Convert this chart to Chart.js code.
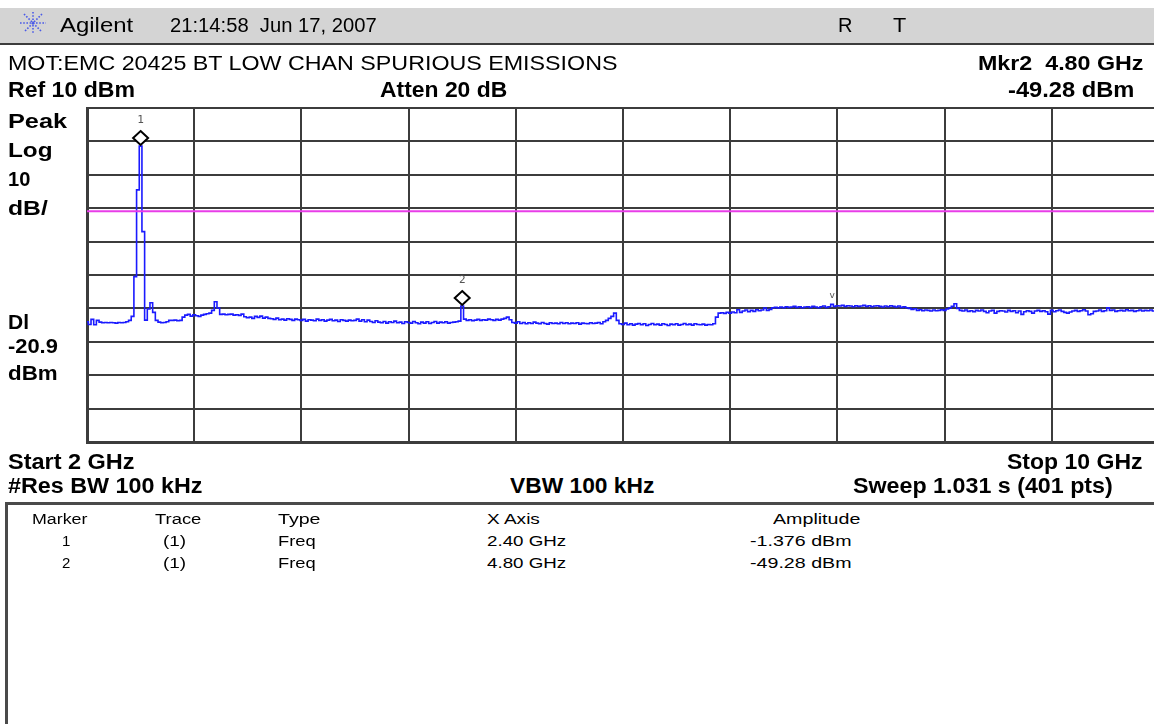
<!DOCTYPE html>
<html>
<head>
<meta charset="utf-8">
<script src="https://cdn.jsdelivr.net/npm/chart.js@4.4.1/dist/chart.umd.min.js"></script>
<style>
html, body { margin: 0; padding: 0; width: 1154px; height: 724px; overflow: hidden; background: #fff;
  font-family: "Liberation Sans", Arial, sans-serif; }
#bar { position: absolute; left: 0; top: 8px; width: 1154px; height: 35px; background: #d4d4d4; border-bottom: 2px solid #3c3c3c; }
#logo { position: absolute; left: 19px; top: 11px; }
#chart { position: absolute; left: 0; top: 0; }
#box { position: absolute; left: 5px; top: 502px; width: 1160px; height: 240px; border-top: 3px solid #4a4a4a; border-left: 3px solid #4a4a4a; }
.lbl { position: absolute; white-space: pre; line-height: 1; color: #000; transform-origin: 0 0; }
</style>
</head>
<body>
<div id="bar"></div>
<svg id="logo" width="28" height="24" viewBox="0 0 28 24">
  <g stroke="#4a5ae8" stroke-width="1.6" stroke-dasharray="1.6 1.6" fill="none">
    <line x1="14" y1="1" x2="14" y2="23"/>
    <line x1="1" y1="12" x2="27" y2="12"/>
    <line x1="5" y1="3" x2="23" y2="21"/>
    <line x1="23" y1="3" x2="5" y2="21"/>
  </g>
</svg>
<canvas id="chart" width="1160" height="450"></canvas>
<div id="box"></div>
<script>
// sweep settings (GHz / dBm)
const freqStart = 2;
const freqStop = 10;
const refLevel = 10;
const dbPerDiv = 10;
const displayLine = -20.9;

// trace 1, 401 points
const trace = [
  -54.0, -54.8, -53.3, -54.9, -53.6, -54.1, -54.3, -54.2, -54.3, -54.2, -54.3, -54.4, -54.2, -54.3, -54.2, -54.0, -53.6, -52.4, -40.5, -14.5,
  -1.4, -27.0, -53.5, -50.2, -48.3, -51.2, -53.6, -54.1, -54.3, -54.2, -54.0, -53.6, -53.6, -53.5, -53.7, -53.6, -52.6, -52.0, -51.8, -52.3,
  -51.9, -52.2, -52.4, -52.0, -51.8, -51.6, -51.4, -50.6, -48.0, -49.9, -51.8, -51.7, -51.9, -51.8, -51.7, -52.0, -51.9, -52.1, -51.7, -52.5,
  -52.8, -52.6, -53.0, -52.4, -52.7, -52.3, -52.9, -52.6, -53.0, -53.1, -53.3, -52.9, -53.4, -53.2, -53.5, -53.1, -53.3, -53.6, -53.2, -53.4,
  -53.6, -53.3, -53.8, -53.4, -53.5, -53.7, -53.2, -53.6, -53.4, -53.8, -53.5, -53.3, -53.7, -53.5, -53.9, -53.4, -53.6, -53.8, -53.5, -53.7,
  -53.6, -53.2, -53.8, -53.4, -54.0, -53.5, -53.9, -54.2, -53.7, -54.1, -54.3, -53.9, -54.4, -54.0, -54.2, -53.8, -54.3, -54.1, -54.5, -54.0,
  -54.2, -54.4, -53.9, -54.3, -54.6, -54.1, -54.4, -54.0, -54.5, -54.2, -53.9, -54.4, -54.1, -54.3, -54.0, -54.4, -54.2, -54.1, -54.0, -53.8,
  -49.3, -53.2, -53.6, -53.4, -53.7, -53.5, -53.3, -53.6, -53.4, -53.5, -53.2, -53.4, -53.6, -53.3, -53.5, -53.2, -53.0, -52.6, -53.4, -54.2,
  -54.4, -54.0, -54.5, -54.2, -54.6, -54.3, -54.5, -54.1, -54.4, -54.6, -54.2, -54.5, -54.7, -54.3, -54.5, -54.4, -54.6, -54.2, -54.5, -54.3,
  -54.6, -54.4, -54.5, -54.3, -54.7, -54.4, -54.5, -54.6, -54.3, -54.5, -54.4, -54.2, -54.6, -54.0, -53.6, -53.0, -52.4, -51.4, -53.6, -54.6,
  -54.8, -54.4, -54.9, -54.6, -55.0, -54.7, -54.5, -54.9, -54.6, -55.1, -54.8, -54.5, -54.9, -54.7, -55.0, -54.6, -54.8, -55.1, -54.7, -54.9,
  -54.6, -55.0, -54.8, -54.5, -54.9, -54.7, -55.0, -54.6, -54.8, -54.9, -54.7, -55.0, -54.8, -54.9, -54.6, -52.6, -51.4, -51.3, -51.5, -51.2,
  -51.4, -51.1, -51.3, -50.4, -51.2, -50.8, -50.5, -51.0, -50.6, -50.9, -50.4, -50.7, -50.5, -49.9, -50.6, -50.3, -49.8, -49.7, -49.9, -49.6,
  -49.8, -49.5, -49.7, -49.6, -49.4, -49.7, -49.5, -49.8, -49.6, -49.5, -49.7, -49.4, -49.6, -49.8, -49.5, -49.3, -49.7, -49.5, -48.8, -49.4,
  -49.2, -49.3, -49.1, -49.4, -49.2, -49.3, -49.5, -49.2, -49.4, -49.3, -49.1, -49.4, -49.2, -49.5, -49.3, -49.2, -49.4, -49.6, -49.3, -49.5,
  -49.2, -49.4, -49.6, -49.3, -49.7, -49.5, -49.8, -50.0, -50.3, -50.1, -50.6, -50.4, -50.7, -50.5, -50.6, -50.8, -50.5, -50.7, -50.6, -50.4,
  -50.6, -50.2, -49.9, -49.4, -48.6, -50.0, -50.6, -50.8, -50.5, -50.9, -50.7, -51.0, -50.6, -50.8, -50.5, -50.9, -51.3, -50.8, -50.6, -51.4,
  -50.9, -50.7, -50.8, -51.1, -50.6, -50.9, -50.7, -51.3, -50.8, -51.8, -51.0, -50.7, -50.9, -51.4, -50.8, -50.6, -50.9, -50.7, -51.0, -51.7,
  -50.6, -51.0, -50.7, -50.5, -50.9, -51.2, -51.4, -51.1, -50.8, -50.6, -50.9, -50.7, -50.4, -50.8, -51.9, -51.6, -50.9, -50.8, -50.5, -50.9,
  -50.7, -49.8, -50.6, -50.5, -50.9, -50.7, -50.6, -50.8, -50.4, -50.7, -50.6, -50.9, -50.7, -50.5, -50.8, -50.6, -50.7, -50.5, -50.8, -50.6,
  -50.7
];

// markers
const markerNames = ['1', '2'];
const markerFreq = [2.40, 4.80];
const markerAmp = [-1.376, -49.28];
const markerAmpText = ['-1.376 dBm', '-49.28 dBm'];
const peakTickFreq = 7.56; // little "v" on the trace

const step = (freqStop - freqStart) / (trace.length - 1);
const tracePts = trace.map((v, i) => ({ x: freqStart + i * step, y: v }));

// labels: text, left, baseline, width (0 = natural), font size, bold
const labels = [
  ['Agilent', 60, 31.5, 73, 20, 0],
  ['21:14:58  Jun 17, 2007', 170, 31.5, 207, 20, 0],
  ['R', 838, 31.5, 14, 20, 0],
  ['T', 893, 31.5, 13, 20, 0],
  ['MOT:EMC 20425 BT LOW CHAN SPURIOUS EMISSIONS', 8, 70, 609, 21, 0],
  ['Mkr2  4.80 GHz', 978, 70, 165, 21, 1],
  ['Ref 10 dBm', 8, 98, 127, 22, 1],
  ['Atten 20 dB', 380, 98, 127, 22, 1],
  ['-49.28 dBm', 1008, 98, 126, 22, 1],
  ['Peak', 8, 128, 59, 21, 1],
  ['Log', 8, 157, 44, 21, 1],
  ['10', 8, 186, 22, 21, 1],
  ['dB/', 8, 215, 40, 21, 1],
  ['Dl', 8, 329, 21, 21, 1],
  ['-20.9', 8, 353, 50, 21, 1],
  ['dBm', 8, 380, 50, 21, 1],
  ['Start 2 GHz', 8, 469.5, 127, 22, 1],
  ['Stop 10 GHz', 1007, 469.5, 136, 22, 1],
  ['#Res BW 100 kHz', 8, 494, 194, 22, 1],
  ['VBW 100 kHz', 510, 494, 144, 22, 1],
  ['Sweep 1.031 s (401 pts)', 853, 494, 260, 22, 1],
  ['Marker', 32, 524, 56, 14, 0],
  ['Trace', 155, 524, 46, 14, 0],
  ['Type', 278, 524, 42, 14, 0],
  ['X Axis', 487, 524, 53, 14, 0],
  ['Amplitude', 773, 524, 87, 14, 0]
];
markerNames.forEach((m, k) => {
  const b = 546 + k * 22;
  labels.push([m, 62, b, 0, 15, 0]);
  labels.push(['(1)', 163, b, 23, 14, 0]);
  labels.push(['Freq', 278, b, 38, 14, 0]);
  labels.push([markerFreq[k].toFixed(2) + ' GHz', 487, b, 79, 14, 0]);
  labels.push([markerAmpText[k], 750, b, 101, 14, 0]);
});

labels.forEach(([t, x, b, w, s, bold]) => {
  const d = document.createElement('div');
  d.className = 'lbl';
  d.textContent = t;
  d.style.left = x + 'px';
  d.style.top = (b - 0.8465 * s) + 'px';
  d.style.fontSize = s + 'px';
  d.style.fontWeight = bold ? 'bold' : 'normal';
  document.body.appendChild(d);
  const real = d.offsetWidth;
  if (w > 0 && real > 0) d.style.transform = 'scaleX(' + (w / real) + ')';
});

// diamonds above the marker points
const markerPlugin = {
  id: 'markers',
  afterDatasetsDraw(chart) {
    const { ctx, scales: { x, y } } = chart;
    ctx.save();
    markerFreq.forEach((f, k) => {
      const px = x.getPixelForValue(f);
      const py = y.getPixelForValue(markerAmp[k]) - 8;
      ctx.beginPath();
      ctx.moveTo(px, py - 7);
      ctx.lineTo(px + 7.5, py);
      ctx.lineTo(px, py + 7);
      ctx.lineTo(px - 7.5, py);
      ctx.closePath();
      ctx.fillStyle = '#fff';
      ctx.fill();
      ctx.lineWidth = 2;
      ctx.strokeStyle = '#000';
      ctx.stroke();
      ctx.fillStyle = '#555';
      ctx.font = '11px "DejaVu Sans Mono", monospace';
      ctx.textAlign = 'center';
      ctx.fillText(markerNames[k], px, py - 15);
    });
    // peak tick
    const idx = Math.round((peakTickFreq - freqStart) / step);
    ctx.fillStyle = '#555';
    ctx.font = '9px "DejaVu Sans", sans-serif';
    ctx.textAlign = 'center';
    ctx.fillText('v', x.getPixelForValue(peakTickFreq), y.getPixelForValue(trace[idx]) - 6);
    ctx.restore();
  }
};

const gridColor = '#3c3c3c';

new Chart(document.getElementById('chart').getContext('2d'), {
  type: 'line',
  data: {
    datasets: [
      {
        label: 'Display line',
        data: [{ x: freqStart, y: displayLine }, { x: freqStop, y: displayLine }],
        borderColor: '#e83ee8',
        borderWidth: 2,
        pointRadius: 0
      },
      {
        label: 'Trace 1',
        data: tracePts,
        borderColor: '#1a1aff',
        borderWidth: 1.6,
        pointRadius: 0,
        stepped: 'middle'
      }
    ]
  },
  options: {
    responsive: false,
    animation: false,
    layout: { padding: { left: 87, top: 108, right: 1, bottom: 8 } },
    plugins: { legend: { display: false }, tooltip: { enabled: false } },
    scales: {
      x: {
        type: 'linear',
        min: freqStart,
        max: freqStop,
        afterBuildTicks: s => {
          s.ticks = [];
          for (let k = 0; k <= 10; k++) s.ticks.push({ value: freqStart + k * (freqStop - freqStart) / 10 });
        },
        ticks: { display: false },
        grid: { color: gridColor, lineWidth: 2, drawTicks: false },
        border: { display: true, color: gridColor, width: 3 }
      },
      y: {
        min: refLevel - 10 * dbPerDiv,
        max: refLevel,
        ticks: { display: false, stepSize: dbPerDiv },
        grid: { color: gridColor, lineWidth: 2, drawTicks: false },
        border: { display: true, color: gridColor, width: 3 }
      }
    }
  },
  plugins: [markerPlugin]
});
</script>
</body>
</html>
